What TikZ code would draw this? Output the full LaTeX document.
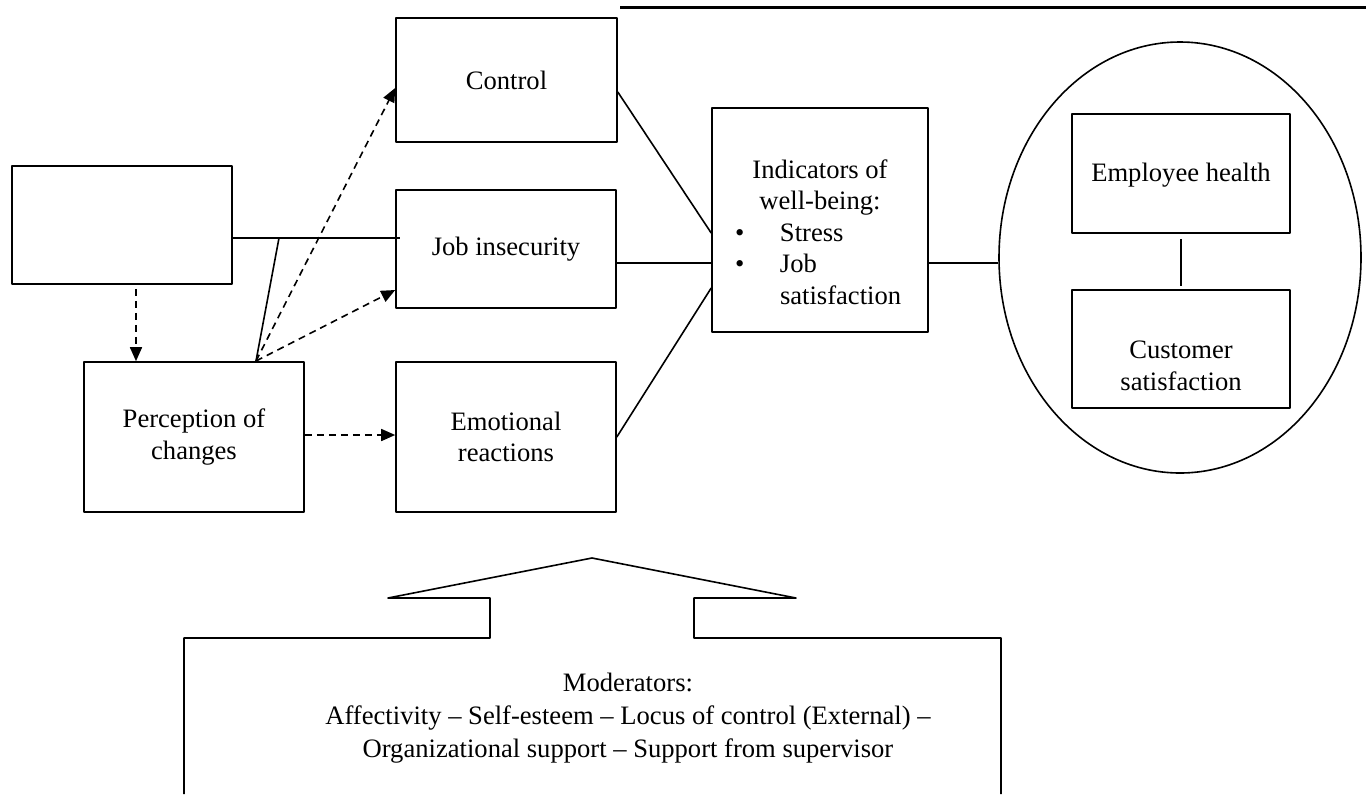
\documentclass[tikz,border=0pt]{standalone}
\usepackage{fontspec}
\setmainfont{Liberation Serif}
\usetikzlibrary{arrows.meta,shapes.geometric}
\tikzset{
  box/.style={draw, line width=0.8pt, align=center, inner sep=0pt},
  link/.style={line width=0.8pt},
  dlink/.style={line width=0.8pt, dash pattern=on 3.5pt off 2.5pt, -{Triangle[length=7pt,width=6pt]}},
}
\begin{document}
\begin{tikzpicture}[x=0.5pt,y=-0.5pt,font=\fontsize{13.3}{15.8}\selectfont, line join=round]
\useasboundingbox (0,0) rectangle (1366,794);
% boxes on the left
\node[box, minimum width=110pt, minimum height=59pt] (src) at (122,225) {};
\node[box, minimum width=110pt, minimum height=75pt] (percep) at (194,437) {Perception of\\changes};
\node[box, minimum width=110.5pt, minimum height=62pt] (ctl) at (506.5,80) {Control};
\node[box, minimum width=110pt, minimum height=59pt] (job) at (506,249) {Job insecurity};
\node[box, minimum width=110pt, minimum height=75pt] (emo) at (506,437) {Emotional\\reactions};
% well-being
\node[box, minimum width=108pt, minimum height=112pt,
  label={[name=ind-t, align=center, yshift=-6pt]center:{Indicators of\\well-being:\\
   \makebox[108pt][l]{\hspace{11.5pt}\makebox[22.5pt][l]{\textbullet}Stress}\\
   \makebox[108pt][l]{\hspace{11.5pt}\makebox[22.5pt][l]{\textbullet}Job}\\
   \makebox[108pt][l]{\hspace{34pt}satisfaction}}}] (ind) at (820,220) {};
% outcomes
\node[draw, line width=0.8pt, ellipse, inner sep=0pt, minimum width=181pt, minimum height=215.5pt] (ell) at (1180,257.5) {};
\node[box, minimum width=109pt, minimum height=59.5pt,
  label={[name=eh-t, yshift=-1pt]center:Employee health}] (eh) at (1181,173.5) {};
\node[box, minimum width=109pt, minimum height=59pt,
  label={[name=cs-t, align=center, yshift=-8.5pt]center:{Customer\\satisfaction}}] (cs) at (1181,349) {};
% moderators
\path (388,598) coordinate (wl) (592,558) coordinate (tip) (796,598) coordinate (wr)
      (490,638) coordinate (nl) (694,638) coordinate (nr)
      (184,638) coordinate (bl) (1001,638) coordinate (br);
\draw[link] (bl|-0,794)--(bl)--(nl)--(nl|-wl)--(wl)--(tip)--(wr)--(nr|-wr)--(nr)--(br)--(br|-0,794);
\node[align=center, font=\fontsize{13.3}{16.6}\selectfont] (mod) at (628,718) {Moderators:\\Affectivity -- Self-esteem -- Locus of control (External) --\\Organizational support -- Support from supervisor};
% connectors
\path (400,238) coordinate (j) (279,238) coordinate (k) (256,361) coordinate (pc);
\draw[link] (src.east|-j) -- (j);
\draw[link] (k) -- (pc);
\draw[dlink] (src.south-|136,0) ++(0,4) -- (percep.north-|136,0);
\draw[dlink] (pc) -- (ctl.west|-0,88);
\draw[dlink] (pc) -- (job.west|-0,290);
\draw[dlink] (percep.east|-0,435) -- (emo.west|-0,435);
\draw[link] (ctl.east|-0,92) -- (ind.west|-0,233);
\draw[link] (job.east|-0,263) -- (ind.west|-0,263);
\draw[link] (emo.east|-0,437) -- (ind.west|-0,288);
\draw[link] (ind.east|-0,263) -- (ell.west|-0,263);
\draw[link, shorten <=2.5pt, shorten >=1.5pt] (eh) -- (cs);
\draw[line width=1.5pt] (620,7) -- (1366,7);
\end{tikzpicture}
\end{document}
